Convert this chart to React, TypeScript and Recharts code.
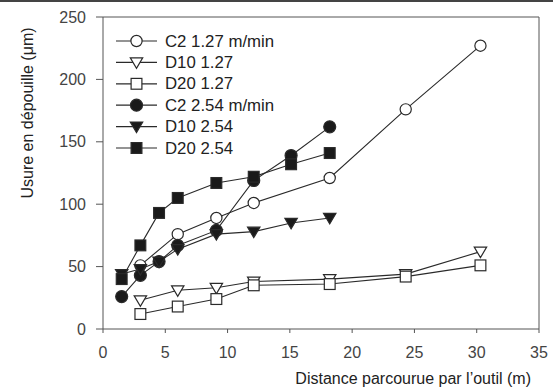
import React from 'react';
import { LineChart, Line, XAxis, YAxis, ReferenceLine, Label } from 'recharts';

// distances (m) for each speed series
const DIST_127 = [3, 6, 9.1, 12.1, 18.2, 24.3, 30.3];
const DIST_254 = [1.5, 3, 4.5, 6, 9.1, 12.1, 15.1, 18.2];

// flank wear (µm)
const C2_127 = [51, 76, 89, 101, 121, 176, 227];
const D10_127 = [23, 31, 33, 38, 40, 44, 62];
const D20_127 = [12, 18, 24, 35, 36, 42, 51];
const C2_254 = [26, 43, 54, 67, 79, 119, 139, 162];
const D10_254 = [44, 48, 54, 64, 76, 78, 85, 89];
const D20_254 = [40, 67, 93, 105, 117, 122, 132, 141];

const X_TICKS = [0, 5, 10, 15, 20, 25, 30, 35];
const Y_TICKS = [0, 50, 100, 150, 200, 250];

type Shape = 'circle' | 'triangle' | 'square';

const SERIES: { name: string; xs: number[]; ys: number[]; shape: Shape; filled: boolean }[] = [
	{ name: 'C2 1.27 m/min', xs: DIST_127, ys: C2_127, shape: 'circle', filled: false },
	{ name: 'D10 1.27', xs: DIST_127, ys: D10_127, shape: 'triangle', filled: false },
	{ name: 'D20 1.27', xs: DIST_127, ys: D20_127, shape: 'square', filled: false },
	{ name: 'C2 2.54 m/min', xs: DIST_254, ys: C2_254, shape: 'circle', filled: true },
	{ name: 'D10 2.54', xs: DIST_254, ys: D10_254, shape: 'triangle', filled: true },
	{ name: 'D20 2.54', xs: DIST_254, ys: D20_254, shape: 'square', filled: true },
];

const INK = '#2a2a2a';
const FONT = '"Liberation Sans", Arial, sans-serif';

function Marker({ cx, cy, shape, filled }: { cx: number; cy: number; shape: Shape; filled: boolean }) {
	const fill = filled ? '#1a1a1a' : '#fff';
	const sw = 1.2;
	if (shape === 'circle') {
		return <circle cx={cx} cy={cy} r={filled ? 6 : 5.6} fill={fill} stroke={INK} strokeWidth={sw} />;
	}
	if (shape === 'square') {
		const h = 5.4;
		return <rect x={cx - h} y={cy - h} width={h * 2} height={h * 2} fill={fill} stroke={INK} strokeWidth={sw} />;
	}
	// downward triangle
	const w = 6.2;
	return (
		<polygon
			points={`${cx - w},${cy - 4.5} ${cx + w},${cy - 4.5} ${cx},${cy + 6}`}
			fill={fill}
			stroke={INK}
			strokeWidth={sw}
		/>
	);
}

function LegendBox() {
	return (
		<svg width={200} height={135} style={{ position: 'absolute', left: 110, top: 30, overflow: 'visible' }}>
			{SERIES.map((s, i) => {
				const y = 11 + i * 21.4;
				return (
					<g key={s.name}>
						<line x1={6} x2={47} y1={y} y2={y} stroke={INK} strokeWidth={1.2} />
						<Marker cx={26.5} cy={y} shape={s.shape} filled={s.filled} />
						<text x={55} y={y} dominantBaseline="central" fontSize={16.8} fill="#222" fontFamily={FONT}>
							{s.name}
						</text>
					</g>
				);
			})}
		</svg>
	);
}

export default function App() {
	return (
		<div style={{ position: 'absolute', left: 0, top: 0, width: 553, height: 391, background: '#fff', fontFamily: FONT }}>
			<LineChart width={553} height={391} margin={{ top: 17, right: 14, left: 0, bottom: 0 }}>
				<XAxis
					type="number"
					dataKey="x"
					domain={[0, 35]}
					ticks={X_TICKS}
					height={62}
					tickSize={4}
					tickMargin={14}
					stroke="#555"
					tick={{ fill: '#444', fontSize: 16 }}
				>
					<Label
						content={() => (
							<text x={531} y={384} textAnchor="end" fontSize={16} fill="#222" fontFamily={FONT}>
								Distance parcourue par l’outil (m)
							</text>
						)}
					/>
				</XAxis>
				<YAxis
					type="number"
					domain={[0, 250]}
					ticks={Y_TICKS}
					width={103}
					tickSize={7}
					tickMargin={10}
					stroke="#555"
					tick={{ fill: '#444', fontSize: 16 }}
				>
					<Label
						content={() => (
							<text
								x={27}
								y={113}
								transform="rotate(-90 27 113)"
								textAnchor="middle"
								dominantBaseline="central"
								fontSize={16}
								fill="#222"
								fontFamily={FONT}
							>
								Usure en dépouille (μm)
							</text>
						)}
					/>
				</YAxis>
				<ReferenceLine y={250} stroke="#555" />
				<ReferenceLine x={35} stroke="#555" />
				{SERIES.map((s) => (
					<Line
						key={s.name}
						name={s.name}
						data={s.xs.map((x, i) => ({ x, y: s.ys[i] }))}
						dataKey="y"
						stroke={INK}
						strokeWidth={1.1}
						isAnimationActive={false}
						activeDot={false}
						dot={(p: any) => <Marker key={p.key ?? `${s.name}-${p.index}`} cx={p.cx} cy={p.cy} shape={s.shape} filled={s.filled} />}
					/>
				))}
			</LineChart>
			<LegendBox />
			<div style={{ position: 'absolute', left: 0, top: 0, width: 553, height: 2, background: '#444' }} />
		</div>
	);
}
